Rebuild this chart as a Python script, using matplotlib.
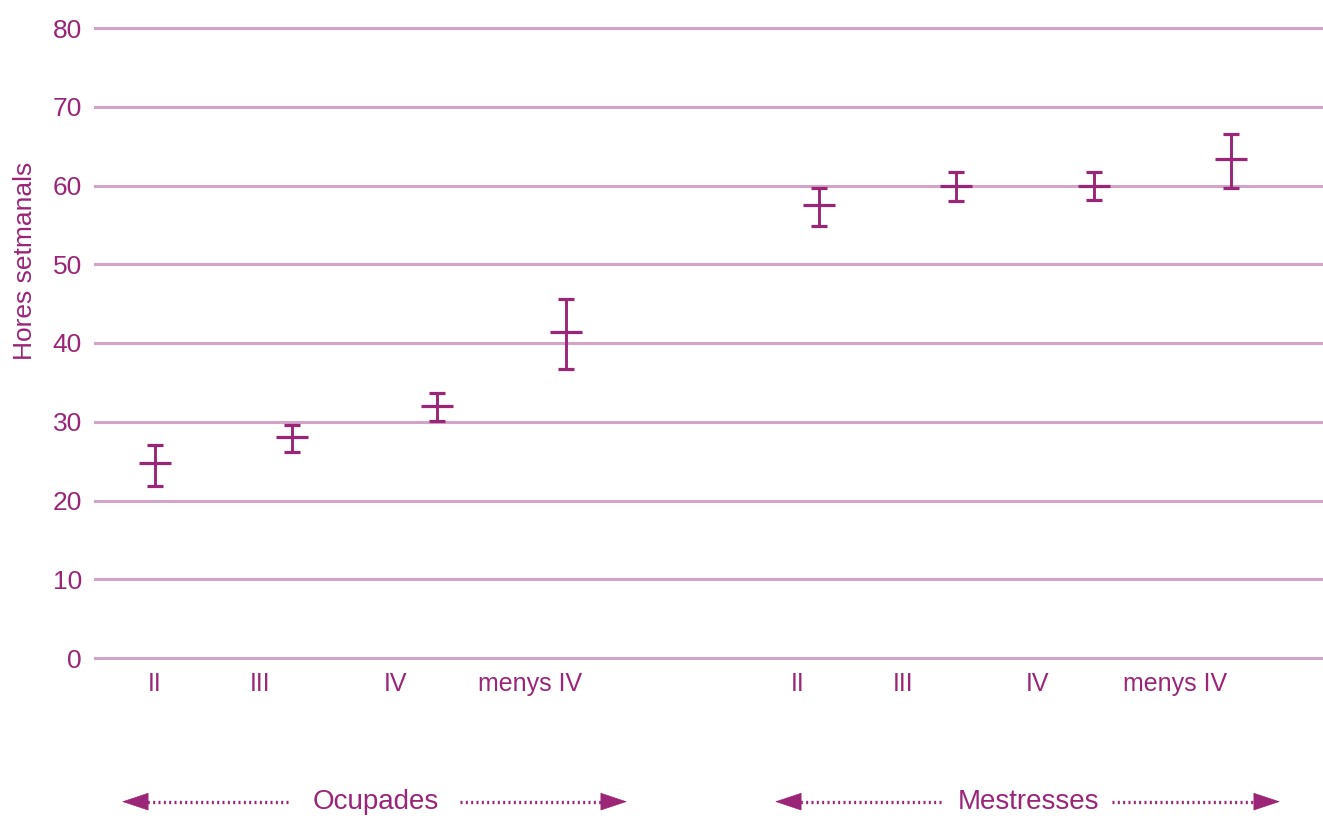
import matplotlib
matplotlib.use("Agg")
import matplotlib.pyplot as plt
import numpy as np

plt.rcParams['font.family'] = ['Liberation Sans', 'DejaVu Sans']

# dades (hores setmanals): mitjana i interval
grups = ['Ocupades', 'Mestresses']
categories = ['II', 'III', 'IV', 'menys IV']
ocupades_mitjana = [24.7, 28.1, 32.0, 41.4]
ocupades_baix = [21.8, 26.2, 30.1, 36.7]
ocupades_alt = [27.1, 29.6, 33.6, 45.6]
mestresses_mitjana = [57.5, 60.0, 60.0, 63.4]
mestresses_baix = [54.9, 58.0, 58.1, 59.7]
mestresses_alt = [59.7, 61.7, 61.7, 66.5]
yticks = [0, 10, 20, 30, 40, 50, 60, 70, 80]

# posicions (eix x arbitrari)
pos_ocupades = [1.55, 2.92, 4.37, 5.66]
pos_mestresses = [8.19, 9.56, 10.94, 12.31]
lab_ocupades = [1.55, 2.60, 3.95, 5.30]
lab_mestresses = [7.98, 9.03, 10.38, 11.75]

purple = '#9b2577'
grid_c = '#d2a4c6'

fig = plt.figure(figsize=(13.23, 8.16), dpi=100)
ax = fig.add_axes([95 / 1323, 1 - 658 / 816, 1 - 95 / 1323, 630 / 816])

for pos, m, lo, hi in [(pos_ocupades, ocupades_mitjana, ocupades_baix, ocupades_alt),
                       (pos_mestresses, mestresses_mitjana, mestresses_baix, mestresses_alt)]:
    m = np.array(m)
    yerr = [m - np.array(lo), np.array(hi) - m]
    ax.errorbar(pos, m, yerr=yerr, fmt='none', ecolor=purple, elinewidth=2.1,
                capsize=6.1, capthick=2.3, zorder=3)
    ax.plot(pos, m, ls='none', marker='_', ms=22.5, mew=2.3, color=purple, zorder=3)

ax.set_xlim(0.95, 13.23)
ax.set_ylim(0, 80)
ax.set_yticks(yticks)
ax.tick_params(axis='y', length=0, pad=9.4, labelsize=19, labelcolor=purple)
ax.set_xticks([])
for s in ax.spines.values():
    s.set_visible(False)
for t in yticks:
    ax.axhline(t, color=grid_c, lw=2.2, zorder=1, clip_on=False)

ax.set_ylabel('Hores setmanals', fontsize=19, color=purple)
ax.yaxis.set_label_coords(-0.047, 0.63)

tr = ax.get_xaxis_transform()
for xs in (lab_ocupades, lab_mestresses):
    for x, c in zip(xs, categories):
        ax.text(x, -0.042, c, transform=tr, ha='center', va='center',
                fontsize=18, color=purple)

# fletxes dels grups
grup_info = [(grups[0], 1.22, 2.88, 3.76, 4.60, 6.27),
             (grups[1], 7.75, 9.41, 10.29, 11.12, 12.80)]
yb = -0.228
for nom, x0, x1, xc, x2, x3 in grup_info:
    ax.text(xc, yb, nom, transform=tr, ha='center', va='center',
            fontsize=20, color=purple)
    for a, b in [(x1, x0), (x2, x3)]:
        ax.plot([a, b + (0.15 if b < a else -0.15)], [yb, yb], transform=tr,
                color=purple, lw=2.4, ls=(0, (0.6, 1.0)), clip_on=False)
        d = 0.25 if b < a else -0.25
        ax.annotate('', xy=(b, yb), xytext=(b + d, yb), xycoords=tr, textcoords=tr,
                    arrowprops=dict(arrowstyle='-|>,head_length=0.9,head_width=0.3',
                                    color=purple, lw=0.5, mutation_scale=20,
                                    shrinkA=0, shrinkB=0))

fig.savefig('out.png', dpi=100)
